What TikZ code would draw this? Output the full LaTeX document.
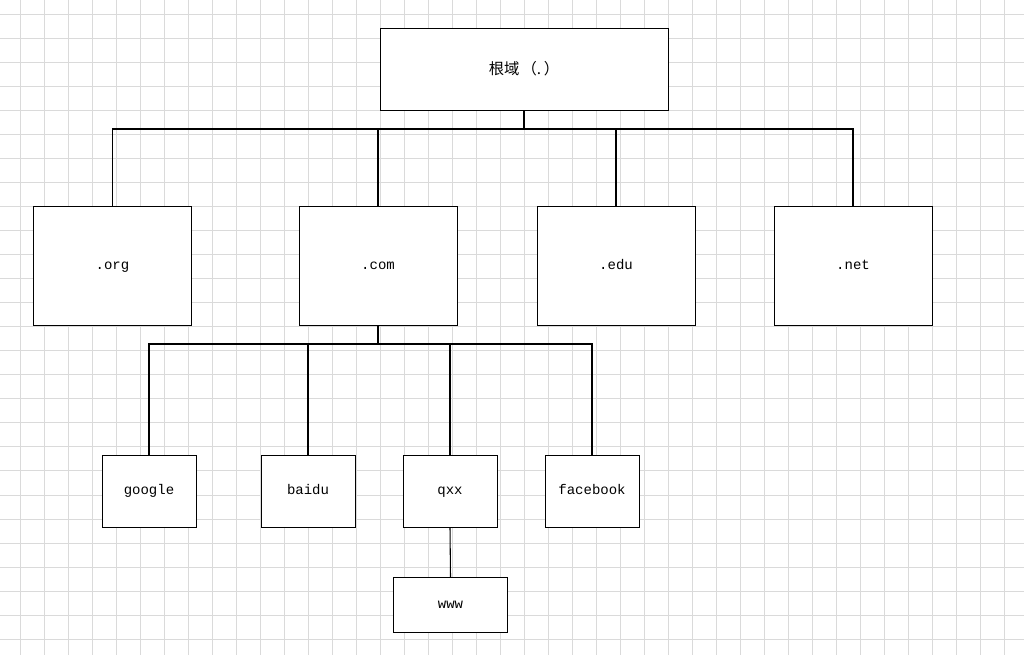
\documentclass[tikz,border=0pt]{standalone}
\usepackage{fontspec}
\setmainfont{Liberation Mono}
\newfontfamily\cjk{Noto Sans CJK SC}
\definecolor{gridc}{HTML}{DADADA}
\begin{document}
\begin{tikzpicture}[x=0.75pt,y=-0.75pt,
  gridline/.style={draw=gridc,line width=0.75pt},
  box/.style={draw=black,line width=0.75pt,fill=white,inner sep=0pt,text height=6.5pt,text depth=1.5pt,font=\fontsize{10.5}{12}\selectfont},
  conn/.style={draw=black,line width=0.8pt}]
\useasboundingbox (0,0) rectangle (1024,655);
\fill[white] (0,0) rectangle (1024,655);
\foreach \i in {0,...,41} \draw[gridline] (20+24*\i,0) -- (20+24*\i,655);
\foreach \j in {0,...,26} \draw[gridline] (0,15+24*\j) -- (1024,15+24*\j);
% level 1
\node[box,minimum width=216pt,minimum height=61.5pt,text height=9pt,text depth=2pt] (root) at (524,70) {\cjk\fontsize{11.5}{13}\selectfont 根域\kern1.5pt（.\kern2pt）};
% level 2
\node[box,minimum width=119pt,minimum height=89.25pt] (org) at (112.5,266.5) {.org};
\node[box,minimum width=118.5pt,minimum height=89.25pt] (com) at (378,266.5) {.com};
\node[box,minimum width=118.5pt,minimum height=89.25pt] (edu) at (616,266.5) {.edu};
\node[box,minimum width=118.5pt,minimum height=89.25pt] (net) at (853,266.5) {.net};
% level 3
\node[box,minimum width=70.5pt,minimum height=53.25pt] (google) at (149,491.5) {google};
\node[box,minimum width=70.5pt,minimum height=53.25pt] (baidu) at (308,491.5) {baidu};
\node[box,minimum width=70.5pt,minimum height=53.25pt] (qxx) at (450,491.5) {qxx};
\node[box,minimum width=70.5pt,minimum height=53.25pt] (facebook) at (592,491.5) {facebook};
% level 4
\node[box,minimum width=85.5pt,minimum height=41.25pt] (www) at (450.5,605) {www};
% buses
\coordinate (b1) at (0,129);
\coordinate (b2) at (0,344);
\draw[conn,line width=1.4pt] (root.south) -- (root.south |- b1);
\draw[conn] (org.north) |- (net.north |- b1) -- (net.north);
\draw[conn] (com.north) -- (com.north |- b1);
\draw[conn] (edu.north) -- (edu.north |- b1);
\draw[conn,line width=1.2pt] (com.south) -- (com.south |- b2);
\draw[conn] (google.north) |- (facebook.north |- b2) -- (facebook.north);
\draw[conn] (baidu.north) -- (baidu.north |- b2);
\draw[conn] (qxx.north) -- (qxx.north |- b2);
\draw[conn] (qxx.south) -- (www.north);
\end{tikzpicture}
\end{document}
